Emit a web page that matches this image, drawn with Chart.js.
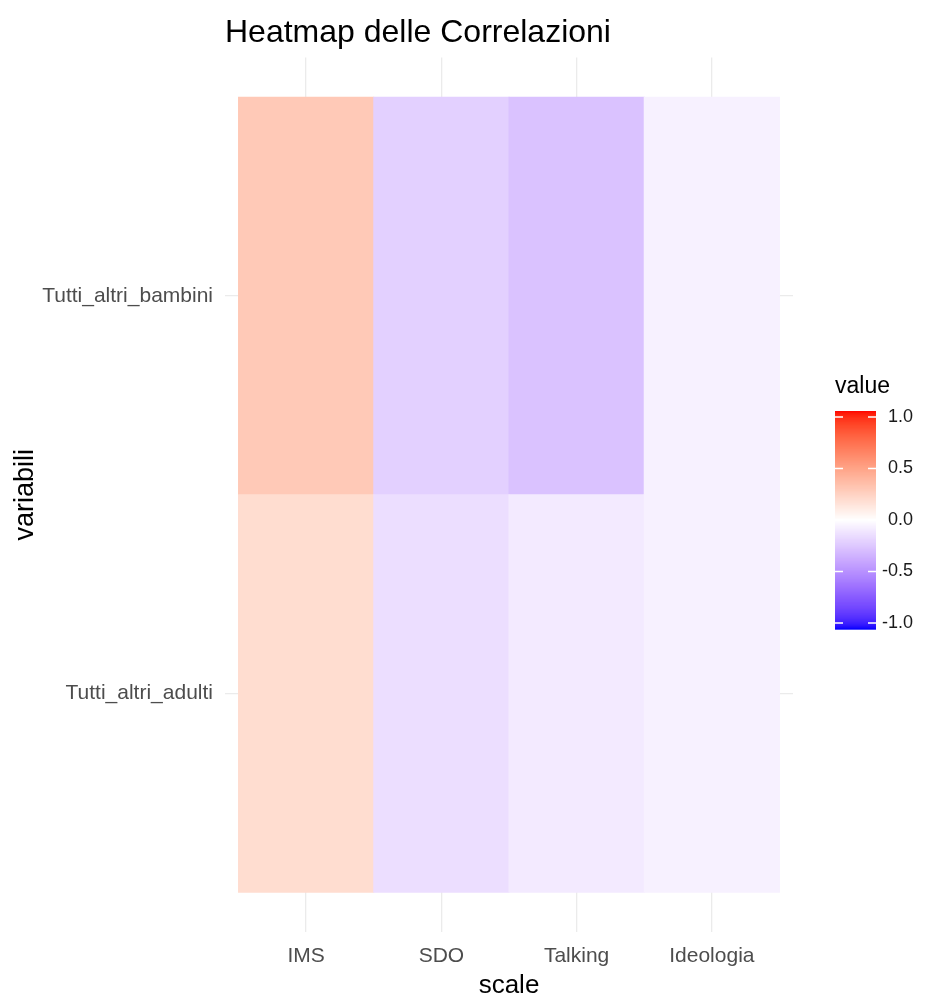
<!DOCTYPE html>
<html>
<head>
<meta charset="utf-8">
<title>Heatmap delle Correlazioni</title>
<script src="https://cdn.jsdelivr.net/npm/chart.js@4.4.1/dist/chart.umd.min.js"></script>
<style>
  html, body { margin: 0; padding: 0; background: #fff; }
  canvas { display: block; }
</style>
</head>
<body>
<canvas id="heatmap" width="930" height="1001"></canvas>
<script>
// colonne (asse x) e righe (asse y)
const scale = ["IMS", "SDO", "Talking", "Ideologia"];
const variabili = ["Tutti_altri_adulti", "Tutti_altri_bambini"];

// correlazioni
const corrAdulti = [0.18, -0.14, -0.09, -0.06];
const corrBambini = [0.28, -0.20, -0.26, -0.06];

// etichette della barra colori
const legendBreaks = [1.0, 0.5, 0.0, -0.5, -1.0];

const FONT = "'Liberation Sans', Arial, sans-serif";

// --- colori: gradiente blu - bianco - rosso interpolato in Lab (come ggplot) ---
function srgbToLin(c) { c /= 255; return c <= 0.04045 ? c / 12.92 : Math.pow((c + 0.055) / 1.055, 2.4); }
function linToSrgb(c) { c = Math.min(1, Math.max(0, c)); return c <= 0.0031308 ? 12.92 * c : 1.055 * Math.pow(c, 1 / 2.4) - 0.055; }

function rgbToLab(r, g, b) {
    const R = srgbToLin(r), G = srgbToLin(g), B = srgbToLin(b);
    const X = (0.4124 * R + 0.3576 * G + 0.1805 * B) / 0.95047;
    const Y = (0.2126 * R + 0.7152 * G + 0.0722 * B);
    const Z = (0.0193 * R + 0.1192 * G + 0.9505 * B) / 1.08883;
    const f = t => t > 0.008856 ? Math.cbrt(t) : 7.787 * t + 16 / 116;
    const fx = f(X), fy = f(Y), fz = f(Z);
    return [116 * fy - 16, 500 * (fx - fy), 200 * (fy - fz)];
}

function labToRgb(L, a, b) {
    const fy = (L + 16) / 116, fx = fy + a / 500, fz = fy - b / 200;
    const inv = t => t * t * t > 0.008856 ? t * t * t : (t - 16 / 116) / 7.787;
    const X = inv(fx) * 0.95047, Y = inv(fy), Z = inv(fz) * 1.08883;
    const R = 3.2406 * X - 1.5372 * Y - 0.4986 * Z;
    const G = -0.9689 * X + 1.8758 * Y + 0.0415 * Z;
    const B = 0.0557 * X - 0.2040 * Y + 1.0570 * Z;
    return [R, G, B].map(c => Math.round(linToSrgb(c) * 255));
}

const labHigh = rgbToLab(255, 0, 0);
const labMid = rgbToLab(255, 255, 255);
const labLow = rgbToLab(0, 0, 255);

function fillColor(v) {
    const t = Math.min(1, Math.abs(v));
    const end = v >= 0 ? labHigh : labLow;
    const lab = labMid.map((m, i) => m + (end[i] - m) * t);
    const rgb = labToRgb(lab[0], lab[1], lab[2]);
    return `rgb(${rgb[0]},${rgb[1]},${rgb[2]})`;
}

// una riga della heatmap = un dataset di barre fluttuanti
function rowDataset(rowIndex, valori) {
    return {
        label: variabili[rowIndex],
        data: scale.map((s, i) => ({ x: i + 1, y: [rowIndex + 0.5, rowIndex + 1.5] })),
        backgroundColor: valori.map(fillColor),
        borderWidth: 0,
        inflateAmount: 0.5,
        grouped: false,
        barPercentage: 1,
        categoryPercentage: 1
    };
}

// barra dei colori a destra
const colorbar = {
    id: "colorbar",
    afterDraw(chart) {
        const ctx = chart.ctx;
        const x0 = chart.chartArea.right + 42;
        const w = 41, top = 411, h = 218, inset = 6;
        ctx.save();

        ctx.fillStyle = "#000";
        ctx.font = "23px " + FONT;
        ctx.textAlign = "left";
        ctx.textBaseline = "middle";
        ctx.fillText("value", x0, top - 24);

        const steps = 220;
        for (let i = 0; i < steps; i++) {
            const v = 1 - 2 * (i + 0.5) / steps;
            ctx.fillStyle = fillColor(v);
            ctx.fillRect(x0, top + i * h / steps, w, h / steps + 0.7);
        }

        const yOf = v => top + inset + (1 - v) / 2 * (h - 2 * inset);
        ctx.strokeStyle = "#fff";
        ctx.lineWidth = 1.5;
        ctx.font = "18px " + FONT;
        ctx.fillStyle = "#1a1a1a";
        ctx.textAlign = "right";
        legendBreaks.forEach(v => {
            const y = yOf(v);
            ctx.beginPath();
            ctx.moveTo(x0, y); ctx.lineTo(x0 + 8, y);
            ctx.moveTo(x0 + w - 8, y); ctx.lineTo(x0 + w, y);
            ctx.stroke();
            ctx.fillText(v.toFixed(1), x0 + w + 37, y);
        });
        ctx.restore();
    }
};

const ctx = document.getElementById("heatmap").getContext("2d");

new Chart(ctx, {
    type: "bar",
    data: {
        datasets: [
            rowDataset(0, corrAdulti),
            rowDataset(1, corrBambini)
        ]
    },
    options: {
        responsive: false,
        animation: false,
        layout: { padding: { left: 0, right: 137, top: 0, bottom: 0 } },
        plugins: {
            legend: { display: false },
            tooltip: { enabled: false },
            title: {
                display: true,
                text: "Heatmap delle Correlazioni",
                align: "start",
                fullSize: false,
                color: "#000",
                font: { family: FONT, size: 32, weight: "normal" },
                padding: { top: 14, bottom: 5 }
            }
        },
        scales: {
            x: {
                type: "linear",
                min: 0.4,
                max: 4.6,
                bounds: "data",
                offset: false,
                border: { display: false },
                grid: { color: "#EBEBEB", lineWidth: 1.3, drawTicks: false, offset: false },
                afterBuildTicks: s => { s.ticks = scale.map((c, i) => ({ value: i + 1 })); },
                ticks: {
                    padding: 12,
                    color: "#4D4D4D",
                    font: { family: FONT, size: 21 },
                    callback: v => scale[v - 1]
                },
                title: {
                    display: true,
                    text: "scale",
                    color: "#000",
                    font: { family: FONT, size: 26 },
                    padding: { top: 0, bottom: 0 }
                },
                afterFit: s => { s.height = 69; }
            },
            y: {
                type: "linear",
                min: 0.4,
                max: 2.6,
                bounds: "data",
                border: { display: false },
                grid: { color: "#EBEBEB", lineWidth: 1.3, drawTicks: false },
                afterBuildTicks: s => { s.ticks = variabili.map((c, i) => ({ value: i + 1 })); },
                ticks: {
                    padding: 12,
                    color: "#4D4D4D",
                    font: { family: FONT, size: 21 },
                    callback: v => variabili[v - 1]
                },
                title: {
                    display: true,
                    text: "variabili",
                    color: "#000",
                    font: { family: FONT, size: 27 },
                    padding: { top: 9, bottom: 0 }
                },
                afterFit: s => { s.width = 225; }
            }
        }
    },
    plugins: [colorbar]
});
</script>
</body>
</html>
